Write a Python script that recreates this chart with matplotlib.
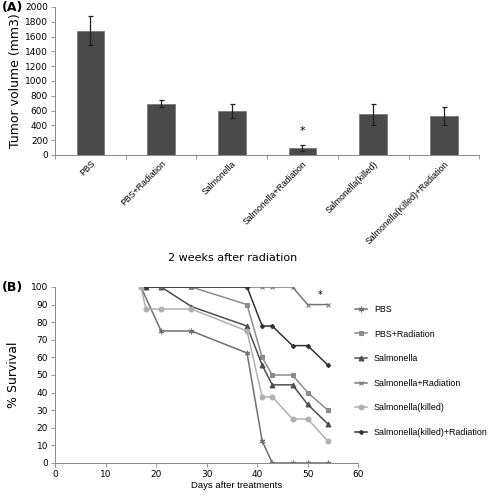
import matplotlib
matplotlib.use("Agg")
import matplotlib.pyplot as plt

# Panel A: tumor volume 2 weeks after radiation
groups = ["PBS", "PBS+Radiation", "Salmonella", "Salmonella+Radiation",
          "Salmonella(killed)", "Salmonella(Killed)+Radiation"]
volume = [1680, 695, 595, 100, 550, 525]
volume_err = [200, 50, 90, 40, 145, 125]

# Panel B: survival curves
days = [17, 18, 21, 27, 38, 41, 43, 47, 50, 54]
pbs = [100, None, 75, 75, 62.5, 12.5, 0, 0, 0, 0]
pbs_rad = [None, 100, None, 100, 90, 60, 50, 50, 40, 30]
salm = [None, 100, 100, 88.9, 77.8, 55.6, 44.4, 44.4, 33.3, 22.2]
salm_rad = [None, 100, 100, 100, 100, 100, 100, 100, 90, 90]
killed = [100, 87.5, 87.5, 87.5, 75, 37.5, 37.5, 25, 25, 12.5]
killed_rad = [None, 100, None, None, 100, 77.8, 77.8, 66.7, 66.7, 55.6]

series = [
    ("PBS", pbs, "#707070", (6, 2, 0), 4),
    ("PBS+Radiation", pbs_rad, "#8c8c8c", "s", 3.5),
    ("Salmonella", salm, "#4d4d4d", "^", 3.5),
    ("Salmonella+Radiation", salm_rad, "#777777", "x", 3.5),
    ("Salmonella(killed)", killed, "#b0b0b0", "o", 3.5),
    ("Salmonella(killed)+Radiation", killed_rad, "#333333", "D", 2.2),
]

SMALL = ["Liberation Sans", "DejaVu Sans"]

fig = plt.figure(figsize=(4.89, 5.0), dpi=100)

axA = fig.add_axes([0.1125, 0.69, 0.8675, 0.296])
x = list(range(len(groups)))
axA.bar(x, volume, width=0.39, color="#4a4a4a", edgecolor="#7a7a7a", linewidth=0.6)
axA.errorbar(x, volume, yerr=volume_err, fmt="none", ecolor="#222222",
             elinewidth=0.9, capsize=1.8, capthick=0.9)
axA.text(3, 330, "*", ha="center", va="center", fontsize=8)
axA.set_xlim(-0.5, len(groups) - 0.5)
axA.set_ylim(0, 2000)
axA.set_yticks(range(0, 2001, 200))
axA.tick_params(axis="y", labelsize=6.5, length=3, width=0.6, color="#888888", pad=2)
axA.set_xticks([i - 0.5 for i in range(len(groups) + 1)], minor=False)
axA.set_xticklabels([])
axA.set_xticks(x, minor=True)
axA.set_xticklabels(groups, minor=True, rotation=45, ha="right",
                    rotation_mode="anchor", fontsize=6.3, family=SMALL)
axA.tick_params(axis="x", which="major", length=3, width=0.6, color="#888888")
axA.tick_params(axis="x", which="minor", length=0, pad=3)
axA.set_ylabel("Tumor volume (mm3)", fontsize=9, labelpad=2)
for s in ("top", "right"):
    axA.spines[s].set_visible(False)
for s in ("left", "bottom"):
    axA.spines[s].set_color("#888888")
    axA.spines[s].set_linewidth(0.7)
fig.text(0.476, 0.484, "2 weeks after radiation", ha="center", va="center", fontsize=8)
fig.text(0.004, 0.985, "(A)", fontsize=9, fontweight="bold", va="center")

axB = fig.add_axes([0.1125, 0.074, 0.62, 0.352])
for label, vals, color, marker, ms in series:
    xs = [d for d, v in zip(days, vals) if v is not None]
    ys = [v for v in vals if v is not None]
    axB.plot(xs, ys, color=color, marker=marker, markersize=ms, linewidth=1.1,
             markeredgecolor=color, markeredgewidth=0.8, label=label)
axB.text(52.5, 95.5, "*", ha="center", va="center", fontsize=7)
axB.set_xlim(0, 60)
axB.set_ylim(0, 100)
axB.set_xticks(range(0, 61, 10))
axB.set_yticks(range(0, 101, 10))
axB.tick_params(labelsize=6.5, length=3, width=0.6, color="#888888", pad=2)
axB.set_ylabel("% Survival", fontsize=9, labelpad=8)
axB.set_xlabel("Days after treatments", fontsize=6.8, family=SMALL)
axB.xaxis.set_label_coords(0.6, -0.1)
for s in ("top", "right"):
    axB.spines[s].set_visible(False)
for s in ("left", "bottom"):
    axB.spines[s].set_color("#888888")
    axB.spines[s].set_linewidth(0.7)
axB.legend(loc="upper left", bbox_to_anchor=(0.71, 0.406),
           bbox_transform=fig.transFigure, frameon=False,
           prop={"family": SMALL, "size": 6.4},
           labelspacing=1.75, handlelength=1.3, handletextpad=0.8)
fig.text(0.004, 0.426, "(B)", fontsize=9, fontweight="bold", va="center")

fig.savefig("out.png", dpi=100)
